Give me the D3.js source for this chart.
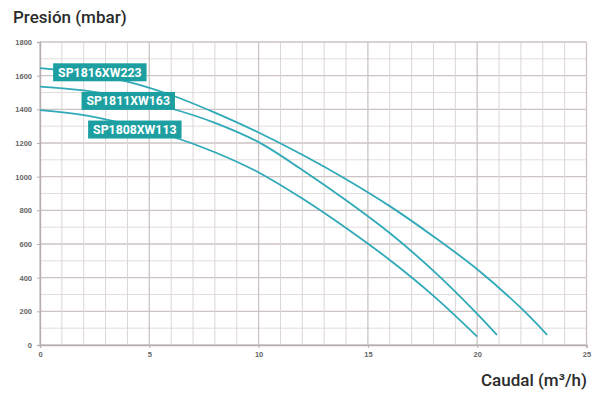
<!DOCTYPE html>
<html><head><meta charset="utf-8">
<script src="https://cdn.jsdelivr.net/npm/d3@7"></script>
<style>
html,body{margin:0;padding:0;background:#fff;}
svg{display:block;}
</style></head>
<body>
<svg id="c" width="599" height="394"></svg>
<script>
// ---- data ----
const seriesNames = ["SP1816XW223", "SP1811XW163", "SP1808XW113"];
const flow1816 = [0, 2, 4, 6, 8, 10, 12, 14, 16, 18, 20, 22, 23.2];
const pres1816 = [1645, 1618, 1565, 1485, 1380, 1262, 1130, 985, 825, 645, 450, 220, 60];
const flow1811 = [0, 2, 4, 6, 8, 10, 12, 14, 16, 18, 20, 20.9];
const pres1811 = [1535, 1512, 1468, 1405, 1320, 1205, 1040, 860, 665, 440, 185, 60];
const flow1808 = [0, 2, 4, 6, 8, 10, 12, 14, 16, 18, 20];
const pres1808 = [1395, 1365, 1310, 1240, 1145, 1025, 870, 695, 505, 292, 50];
const xTicks = [0, 5, 10, 15, 20, 25];
const yTicks = [0, 200, 400, 600, 800, 1000, 1200, 1400, 1600, 1800];
const xTitle = "Caudal (m³/h)";
const yTitle = "Presión (mbar)";
// label anchor (data coords: left edge, vertical center) for each series label
const labelFlow = [0.6, 1.9, 2.2];
const labelPres = [1620, 1450, 1280];

const series = [
  {name: seriesNames[0], q: flow1816, p: pres1816},
  {name: seriesNames[1], q: flow1811, p: pres1811},
  {name: seriesNames[2], q: flow1808, p: pres1808}
];

const svg = d3.select("#c");
const x = d3.scaleLinear().domain([0, 25]).range([40, 586.5]);
const y = d3.scaleLinear().domain([0, 1800]).range([345, 42]);

const lineCol = "#30a9b8";
const boxCol = "#1d9fa2";

// grid
const g = svg.append("g");
d3.range(0, 1801, 100).forEach(v => {
  g.append("line").attr("x1", x(0)).attr("x2", x(25)).attr("y1", y(v)).attr("y2", y(v))
    .attr("stroke", v % 200 === 0 ? "#cdc3c3" : "#e3dcdc").attr("stroke-width", v % 200 === 0 ? 1.3 : 1);
});
d3.range(0, 26, 1).forEach(v => {
  g.append("line").attr("y1", y(0)).attr("y2", y(1800)).attr("x1", x(v)).attr("x2", x(v))
    .attr("stroke", v % 5 === 0 ? "#cdc3c3" : "#ddd5d5").attr("stroke-width", v % 5 === 0 ? 1.3 : 1);
});

// axes
const ax = svg.append("g").attr("transform", `translate(0,${y(0)})`)
  .call(d3.axisBottom(x).tickValues(xTicks).tickSize(3).tickPadding(4).tickFormat(d3.format("d")));
const ay = svg.append("g").attr("transform", `translate(${x(0)},0)`)
  .call(d3.axisLeft(y).tickValues(yTicks).tickSize(3).tickPadding(5).tickFormat(d3.format("d")));
[ax, ay].forEach(a => {
  a.select(".domain").attr("stroke", "#b8aeae").attr("stroke-width", 1.4);
  a.selectAll(".tick line").attr("stroke", "#b8aeae");
  a.selectAll("text").attr("fill", "#666").attr("font-family", "Liberation Sans, Arial, sans-serif")
    .attr("font-size", 7.5).attr("font-weight", "bold");
});

// curves
const line = d3.line().x(d => x(d[0])).y(d => y(d[1])).curve(d3.curveCatmullRom.alpha(0.5));
series.forEach(s => {
  const pts = s.q.map((q, i) => [q, s.p[i]]);
  svg.append("path").attr("d", line(pts)).attr("fill", "none")
    .attr("stroke", lineCol).attr("stroke-width", 1.8);
});

// labels
series.forEach((s, i) => {
  const lx = x(labelFlow[i]), ly = y(labelPres[i]);
  const t = svg.append("text").attr("x", lx + 5).attr("y", ly + 4.5)
    .attr("fill", "#fff").attr("font-family", "Roboto, sans-serif").attr("font-weight", "bold")
    .attr("font-size", 12.3).text(s.name);
  const bb = t.node().getBBox();
  svg.insert("rect", () => t.node()).attr("x", lx).attr("y", ly - 9)
    .attr("width", bb.width + 10).attr("height", 18).attr("fill", boxCol);
});

// titles
svg.append("text").attr("x", 13).attr("y", 23).attr("fill", "#2b2b2b")
  .attr("font-family", "Roboto, sans-serif").attr("font-weight", 500).attr("font-size", 17).text(yTitle);
svg.append("text").attr("x", 587).attr("y", 386).attr("text-anchor", "end").attr("fill", "#2b2b2b")
  .attr("font-family", "Roboto, sans-serif").attr("font-weight", 500).attr("font-size", 17).text(xTitle);
</script>
</body></html>
